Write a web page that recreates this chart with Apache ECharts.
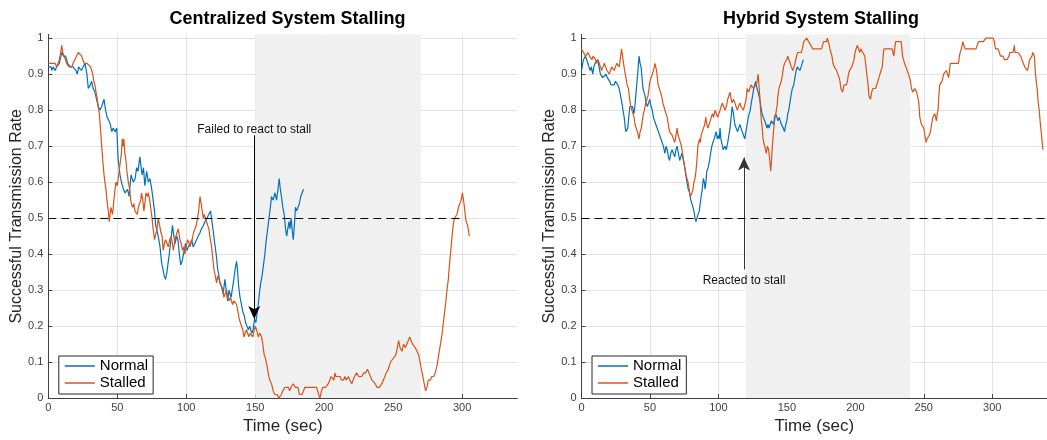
<!DOCTYPE html>
<html>
<head>
<meta charset="utf-8">
<script src="https://cdn.jsdelivr.net/npm/echarts@6/dist/echarts.min.js"></script>
<style>
  html, body { margin: 0; padding: 0; background: #fff; }
  #chart { width: 1047px; height: 440px; }
</style>
</head>
<body>
<div id="chart"></div>
<script>
// [time (sec), rate]
const centralNormal = [
  [0,0.92],[2,0.92],[2.5,0.91],[3.5,0.92],[5,0.91],[6,0.92],[8,0.93],[9.7,0.96],[11,0.95],[12.6,0.95],[14,0.93],[16,0.92],[18,0.92],[20,0.91],[21,0.9],[22,0.92],[24,0.91],[26.6,0.93],[28,0.9],[29,0.86],[30.5,0.87],[31.4,0.88],[32.5,0.86],[33.8,0.85],[35,0.83],[36.2,0.81],[37.5,0.8],[38.7,0.81],[40.4,0.83],[41.5,0.8],[42.7,0.78],[44,0.77],[45,0.76],[46,0.74],[47,0.75],[48.5,0.74],[49.6,0.75],[50.7,0.66],[52,0.62],
  [53,0.6],[54.5,0.58],[55.6,0.57],[57.5,0.58],[58.5,0.56],[60,0.62],[61.6,0.6],[63,0.61],[64,0.64],[65,0.63],[66.4,0.67],[67,0.65],[68,0.62],[69,0.64],[70,0.59],[71.3,0.63],[72.5,0.6],[73.7,0.61],[75,0.58],[76,0.55],[77,0.52],[77.8,0.48],[78.5,0.47],[79.7,0.45],[81,0.42],[82,0.38],[83,0.36],[84,0.34],[85,0.33],[86,0.35],[87,0.38],[88,0.41],[89,0.44],[90,0.48],[91,0.45],[92,0.43],[93,0.45],[94,0.44],[95,0.4],[96,0.37],[97,0.38],[98,0.4],[99.5,0.43],[100.5,0.41],[101.5,0.42],[103,0.43],[104,0.44],[105,0.42],[106,0.42],[107.5,0.44],[108.7,0.45],[110,0.46],[111,0.47],[112.5,0.48],[113.5,0.49],[115,0.5],[116,0.5],[117.6,0.52],[119,0.48],[120,0.45],[121,0.42],[122,0.39],[122.7,0.36],[123.7,0.34],[124.4,0.32],[125.5,0.31],[126.8,0.29],[128,0.33],[129,0.3],[130,0.27],[131,0.3],[131.6,0.3],[132.5,0.28],[133.6,0.28],[134.5,0.33],[135.5,0.36],[136.5,0.38],[137.3,0.35],[138,0.31],[139,0.28],[140,0.26],[141,0.24],[142,0.23],[143,0.21],[144,0.2],[145,0.19],[146,0.2],[146.6,0.2],[147.5,0.18],[148.5,0.19],[149.5,0.22],[150.5,0.21],[152.2,0.26],[153,0.29],[154,0.32],[155,0.34],[156,0.37],[157,0.4],[158,0.44],[158.7,0.46],[160,0.5],[161,0.53],[161.8,0.56],[163,0.55],[164.3,0.57],[165.5,0.55],[166.5,0.58],[167.4,0.61],[168.2,0.58],[169,0.56],[170,0.53],[171,0.51],[172,0.47],[172.8,0.45],[173.6,0.47],[174.5,0.49],[175.2,0.47],[176,0.5],[177,0.46],[177.6,0.44],[178.4,0.48],[179.2,0.53],[180,0.52],[181,0.52],[182,0.54],[183,0.56],[184,0.56],[185,0.58]
];
const centralStalled = [
  [0,0.93],[3,0.93],[4.9,0.93],[6.1,0.92],[7,0.92],[8,0.94],[9,0.96],[9.7,0.98],[10.5,0.96],[11.4,0.95],[12.5,0.94],[13.3,0.93],[15,0.92],[17,0.92],[18,0.93],[19.3,0.93],[20.5,0.95],[21.7,0.96],[23,0.96],[24.2,0.95],[25,0.94],[26,0.93],[28,0.93],[29,0.93],[30.7,0.92],[31.5,0.91],[32.2,0.9],[33,0.88],[33.8,0.87],[34.6,0.85],[35.5,0.83],[36.2,0.81],[37,0.79],[37.8,0.75],[38.7,0.7],[39.5,0.66],[40.4,0.62],[41,0.6],[41.8,0.58],[42.5,0.55],[43.5,0.52],[44.2,0.49],[45.4,0.53],[46.6,0.51],[47.8,0.56],[49,0.6],[50,0.59],[50.7,0.61],[52,0.65],[53,0.68],[53.6,0.72],[54.2,0.7],[54.8,0.72],[55.5,0.68],[56.3,0.66],[57,0.63],[58,0.6],[59,0.58],[59.7,0.55],[61,0.53],[62,0.54],[62.8,0.52],[64.5,0.51],[65.3,0.53],[66,0.53],[67,0.55],[67.6,0.57],[68.5,0.55],[69.3,0.52],[70,0.54],[70.8,0.57],[72,0.56],[72.5,0.57],[73.5,0.55],[74.4,0.55],[75.2,0.5],[76,0.47],[77,0.44],[77.8,0.44],[78.8,0.47],[79.7,0.5],[80.7,0.48],[81.6,0.46],[82.5,0.45],[83.3,0.41],[84.2,0.43],[85,0.44],[86,0.43],[87,0.42],[88,0.44],[89,0.45],[90,0.43],[90.6,0.41],[91.5,0.43],[92.5,0.45],[93.3,0.46],[94.2,0.47],[95.4,0.44],[96.3,0.43],[97.3,0.41],[98.2,0.42],[99,0.4],[100,0.42],[101,0.44],[102,0.43],[102.7,0.42],[103.5,0.43],[104.3,0.44],[105.3,0.46],[106.3,0.47],[107.2,0.48],[108.2,0.5],[109,0.52],[110,0.56],[110.8,0.54],[111.6,0.52],[112.3,0.5],[113,0.51],[114,0.5],[114.7,0.49],[115.5,0.48],[116.4,0.47],[117.5,0.44],[118.4,0.42],[119.2,0.39],[120,0.36],[121,0.34],[122,0.32],[122.8,0.34],[123.7,0.33],[124.6,0.32],[125.6,0.31],[126.5,0.3],[127.3,0.28],[128.2,0.29],[129.2,0.3],[130,0.28],[131,0.27],[132,0.28],[132.8,0.28],[133.6,0.26],[134.5,0.27],[135.5,0.27],[136.5,0.26],[137.5,0.24],[138.4,0.22],[139.2,0.21],[140,0.2],[141,0.19],[141.8,0.17],[142.7,0.18],[143.7,0.19],[144.5,0.18],[145.4,0.17],[146.3,0.18],[147.3,0.18],[148.3,0.17],[149.3,0.19],[150,0.2],[151,0.19],[152.2,0.17],[153.3,0.18],[154.6,0.17],[155.5,0.15],[156.5,0.12],[157.5,0.11],[158.5,0.09],[159.4,0.07],[160.5,0.05],[161.8,0.04],[163,0.02],[164.3,0.01],[166,0.01],[167,0.0],[168,0.005],[169,0.01],[170,0.02],[171.5,0.03],[174,0.03],[175,0.02],[176,0.03],[177.5,0.04],[179,0.03],[181,0.03],[182,0.01],[184,0.01],[185,0.02],[186,0.03],[190,0.03],[194.5,0.03],[196,0.01],[197,0.0],[198,0.02],[199,0.03],[201,0.03],[203,0.04],[204,0.05],[205,0.06],[206,0.06],[207,0.05],[207.8,0.07],[208.5,0.06],[210,0.06],[211.5,0.06],[212.5,0.05],[214,0.05],[215,0.06],[216,0.05],[217.6,0.06],[218.5,0.05],[220,0.04],[221,0.04],[222,0.06],[223.6,0.07],[225,0.06],[226,0.06],[227.3,0.06],[228.5,0.07],[230,0.07],[231.4,0.08],[232.5,0.07],[233.5,0.06],[234.6,0.05],[236,0.05],[237,0.04],[238.2,0.03],[240,0.03],[241.8,0.04],[243,0.04],[244,0.06],[245,0.07],[246.5,0.08],[248,0.1],[249,0.1],[250,0.11],[250.8,0.11],[252,0.12],[253,0.14],[254,0.16],[255,0.14],[256.4,0.13],[257.5,0.15],[258.8,0.14],[260,0.15],[261,0.16],[262,0.17],[263,0.16],[264,0.15],[265,0.15],[266,0.14],[267.3,0.13],[268.5,0.12],[269.5,0.1],[270.5,0.08],[271.5,0.06],[272.5,0.04],[273.5,0.02],[274.5,0.03],[275.5,0.05],[277,0.05],[278,0.06],[279.5,0.06],[280.5,0.07],[281.8,0.09],[283,0.12],[284.3,0.15],[285.5,0.18],[286.7,0.22],[288,0.26],[289,0.3],[290,0.33],[290.8,0.37],[291.8,0.41],[292.7,0.45],[293.5,0.48],[294.4,0.5],[295.3,0.5],[296.3,0.51],[297.3,0.53],[298.3,0.53],[299.3,0.55],[300.2,0.57],[301,0.55],[301.7,0.53],[302.5,0.5],[303,0.49],[304,0.48],[305.2,0.45]
];
const hybridNormal = [
  [0,0.91],[0.5,0.92],[1.4,0.94],[2.9,0.95],[3.8,0.94],[4.6,0.93],[5.5,0.92],[6.3,0.91],[7.2,0.92],[8.2,0.9],[9,0.92],[9.9,0.93],[11,0.93],[11.8,0.94],[12.8,0.92],[13.8,0.9],[14.7,0.9],[15.5,0.89],[16.5,0.89],[17.9,0.9],[18.8,0.89],[19.8,0.89],[20.6,0.88],[21.5,0.87],[22.5,0.87],[23.9,0.87],[24.8,0.88],[25.6,0.88],[26.5,0.87],[27.5,0.86],[28.5,0.84],[29.5,0.82],[30.3,0.8],[31.2,0.78],[32,0.75],[32.4,0.74],[33.8,0.75],[34.5,0.78],[35.3,0.81],[36.2,0.81],[37.2,0.81],[38.4,0.79],[39.2,0.82],[40.1,0.86],[41,0.9],[42,0.95],[42.8,0.93],[43.5,0.92],[44.2,0.89],[44.9,0.86],[45.6,0.85],[46.4,0.84],[47.2,0.82],[48.1,0.81],[49,0.82],[49.8,0.83],[50.8,0.81],[51.7,0.8],[52.5,0.78],[53.4,0.77],[54.3,0.76],[55.3,0.76],[56.2,0.74],[57.2,0.74],[58,0.72],[58.9,0.71],[59.8,0.7],[60.9,0.68],[61.8,0.7],[62.6,0.69],[63.5,0.67],[64.3,0.66],[65.2,0.68],[66.2,0.69],[67.1,0.68],[68.1,0.67],[69,0.69],[69.8,0.7],[70.8,0.68],[71.7,0.66],[72.5,0.67],[73.4,0.68],[74.4,0.66],[75.4,0.64],[76.2,0.62],[77,0.6],[78,0.58],[79,0.57],[79.8,0.55],[80.7,0.54],[81.4,0.53],[82.1,0.52],[82.9,0.5],[83.6,0.49],[84.3,0.5],[85,0.5],[86,0.52],[86.7,0.54],[87.4,0.56],[88.2,0.58],[89,0.61],[89.7,0.6],[90.3,0.58],[90.9,0.6],[91.5,0.63],[92.5,0.64],[93.5,0.66],[94.3,0.68],[95.2,0.7],[96,0.71],[96.9,0.72],[97.6,0.73],[98.3,0.74],[99.2,0.72],[100,0.73],[100.6,0.72],[101.2,0.75],[101.8,0.72],[102.4,0.71],[103.5,0.69],[104.8,0.7],[105.8,0.69],[106.8,0.71],[107.6,0.73],[108.5,0.75],[109.3,0.78],[110,0.81],[111,0.79],[112,0.76],[113,0.75],[114,0.74],[114.8,0.75],[115.7,0.76],[116.5,0.75],[117.4,0.74],[118.3,0.73],[119.3,0.72],[120.1,0.74],[121,0.76],[121.8,0.78],[122.5,0.79],[123.3,0.8],[124,0.82],[125,0.84],[125.8,0.86],[126.5,0.87],[127.3,0.88],[128.2,0.86],[129,0.85],[129.6,0.84],[130.2,0.83],[131,0.81],[131.9,0.79],[132.8,0.78],[133.8,0.77],[134.7,0.76],[135.5,0.75],[136.2,0.76],[137,0.75],[137.8,0.76],[138.6,0.77],[139.5,0.77],[140.3,0.76],[141,0.78],[141.8,0.79],[142.7,0.78],[143.5,0.77],[144.3,0.78],[145.2,0.77],[146,0.76],[146.6,0.76],[147.4,0.75],[148.3,0.74],[149.2,0.76],[150,0.77],[150.7,0.79],[151.4,0.8],[152.2,0.82],[153,0.84],[154,0.86],[155,0.87],[155.9,0.89],[156.8,0.91],[157.6,0.92],[158.5,0.92],[159.5,0.91],[160.4,0.92],[161.2,0.93],[162,0.94]
];
const hybridStalled = [
  [0,0.97],[0.5,0.97],[1.5,0.96],[2.2,0.96],[3,0.95],[3.9,0.95],[4.8,0.96],[5.8,0.95],[6.7,0.95],[7.7,0.94],[8.5,0.95],[9.4,0.95],[10.2,0.94],[11.1,0.93],[12,0.94],[13,0.93],[13.8,0.92],[14.7,0.91],[15.7,0.92],[16.7,0.93],[17.6,0.92],[18.6,0.91],[19.4,0.91],[20.3,0.9],[21.2,0.91],[22,0.92],[23,0.92],[23.9,0.91],[24.8,0.92],[25.8,0.93],[26.6,0.93],[27.5,0.92],[28.3,0.94],[29.2,0.97],[30,0.95],[30.7,0.93],[31.5,0.91],[32.4,0.89],[33.3,0.87],[34.3,0.86],[35.2,0.83],[36,0.81],[36.8,0.8],[37.7,0.8],[38.4,0.78],[39.1,0.76],[40,0.75],[40.8,0.74],[41.4,0.73],[42,0.72],[42.8,0.74],[43.7,0.75],[44.4,0.77],[45.2,0.79],[46,0.8],[46.9,0.82],[47.8,0.83],[48.6,0.84],[49.3,0.86],[50,0.88],[50.8,0.89],[51.7,0.9],[52.6,0.91],[53.6,0.93],[54.2,0.92],[54.8,0.91],[55.4,0.89],[56,0.87],[56.8,0.86],[57.7,0.85],[58.5,0.84],[59.4,0.82],[60.2,0.81],[60.9,0.8],[61.8,0.79],[62.6,0.78],[63.4,0.76],[64.3,0.74],[65.2,0.74],[66.2,0.73],[67.1,0.72],[68.1,0.71],[69,0.73],[69.8,0.75],[70.6,0.73],[71.5,0.72],[72.2,0.71],[73,0.7],[73.8,0.68],[74.6,0.66],[75.5,0.64],[76.3,0.62],[77,0.61],[77.8,0.6],[78.7,0.58],[79.5,0.56],[80.1,0.56],[80.7,0.57],[81.4,0.58],[82.1,0.6],[82.9,0.61],[83.6,0.63],[84.3,0.66],[85,0.7],[85.6,0.71],[86.2,0.72],[86.8,0.71],[87.4,0.73],[88.2,0.74],[89.1,0.75],[90,0.76],[90.8,0.78],[91.5,0.76],[92.3,0.75],[93.2,0.76],[94,0.77],[94.8,0.78],[95.6,0.79],[96.5,0.78],[97.6,0.8],[98.5,0.79],[99.5,0.78],[100.3,0.79],[101.2,0.8],[102,0.81],[102.9,0.82],[103.8,0.81],[104.8,0.8],[105.8,0.81],[106.8,0.83],[107.6,0.84],[108.5,0.85],[109.3,0.83],[110,0.82],[111,0.83],[112,0.82],[112.9,0.81],[113.8,0.8],[114.7,0.81],[115.7,0.82],[116.5,0.81],[117.4,0.81],[118.3,0.8],[119.3,0.8],[120.2,0.83],[121,0.86],[122,0.85],[123,0.86],[123.8,0.87],[124.6,0.87],[125.6,0.86],[126.6,0.86],[127.5,0.87],[128.3,0.88],[129,0.9],[129.6,0.87],[130.2,0.84],[130.8,0.8],[131.4,0.77],[132,0.75],[132.6,0.72],[133.2,0.71],[133.8,0.7],[134.4,0.69],[135,0.68],[135.8,0.7],[136.7,0.69],[137.5,0.66],[138.2,0.63],[138.8,0.66],[139.4,0.7],[140.2,0.74],[141,0.77],[141.9,0.79],[142.8,0.81],[143.5,0.84],[144.2,0.86],[145,0.87],[145.9,0.88],[146.8,0.9],[147.6,0.92],[148.3,0.93],[149,0.93],[149.8,0.94],[150.7,0.95],[151.5,0.94],[152.4,0.93],[153.3,0.92],[154.3,0.91],[155.2,0.92],[156,0.93],[157,0.95],[158,0.96],[159,0.96],[160.4,0.96],[161.3,0.97],[162.3,0.99],[163.4,0.99],[164.5,1.0],[165.2,1.0],[165.9,0.99],[166.8,0.99],[167.6,0.98],[168.8,0.97],[170,0.97],[172.5,0.97],[175.4,0.97],[176,0.98],[176.8,0.99],[179,0.99],[179.6,1.0],[180.2,1.0],[181,0.98],[181.4,0.97],[182.2,0.96],[182.9,0.95],[183.7,0.93],[184.6,0.92],[185.4,0.92],[186.3,0.91],[187.2,0.9],[188.2,0.89],[188.8,0.88],[189.4,0.86],[190,0.86],[190.6,0.85],[191.2,0.86],[191.8,0.87],[192.6,0.87],[193.5,0.87],[194.2,0.88],[195,0.9],[195.8,0.91],[196.6,0.91],[197.4,0.92],[198.3,0.93],[199,0.94],[199.8,0.96],[200.6,0.97],[201.5,0.98],[202.3,0.97],[203.2,0.96],[203.9,0.97],[204.6,0.97],[205.4,0.96],[206.3,0.96],[206.9,0.95],[207.5,0.93],[208.1,0.91],[208.7,0.89],[209.3,0.87],[209.9,0.84],[210.5,0.84],[211.1,0.83],[211.9,0.85],[212.8,0.86],[214,0.86],[214.8,0.86],[215.6,0.87],[216.5,0.88],[217.2,0.89],[218,0.9],[218.8,0.91],[219.7,0.92],[220.3,0.95],[220.9,0.97],[222,0.97],[223.3,0.97],[225,0.97],[226.9,0.97],[227.5,0.96],[228.1,0.95],[228.8,0.97],[229.4,0.99],[231.8,0.99],[233.5,0.99],[234,0.97],[234.5,0.95],[235.2,0.94],[235.9,0.93],[236.9,0.92],[237.9,0.91],[238.8,0.9],[239.6,0.89],[240.3,0.88],[241,0.86],[241.9,0.85],[242.8,0.85],[243.4,0.86],[244,0.86],[244.8,0.85],[245.7,0.85],[246.4,0.82],[247.1,0.78],[247.7,0.77],[248.3,0.76],[249.1,0.76],[250,0.75],[250.8,0.73],[251.7,0.71],[252.4,0.72],[253.2,0.72],[254,0.73],[254.9,0.74],[255.7,0.76],[256.6,0.78],[257.3,0.78],[258,0.79],[258.6,0.78],[259.2,0.77],[259.8,0.79],[260.4,0.8],[261,0.84],[261.6,0.87],[262.4,0.87],[263.3,0.88],[264,0.89],[264.5,0.9],[265.5,0.9],[266.5,0.91],[267.3,0.9],[268.2,0.89],[268.8,0.91],[269.4,0.93],[270.3,0.93],[271.3,0.93],[273,0.93],[275.4,0.93],[276,0.95],[276.6,0.96],[277.5,0.97],[278.5,0.99],[279.3,0.98],[280.2,0.97],[281.9,0.97],[283.8,0.97],[286.2,0.97],[288.2,0.97],[289,0.98],[289.9,0.99],[291.5,0.99],[293.5,0.99],[294.5,0.99],[295.4,1.0],[298,1.0],[300.7,1.0],[301.5,0.99],[302.4,0.97],[303.3,0.97],[304.3,0.97],[305.2,0.96],[306,0.95],[307,0.95],[307.9,0.95],[308.9,0.94],[309.9,0.94],[310.8,0.94],[311.6,0.94],[312.2,0.95],[312.8,0.96],[314,0.96],[315.2,0.96],[315.8,0.96],[316.2,0.98],[316.6,0.96],[317.6,0.96],[318.8,0.96],[320,0.96],[320.8,0.95],[321.7,0.94],[322.7,0.93],[323.7,0.92],[324.6,0.92],[325.6,0.91],[326.4,0.92],[327.3,0.94],[328.2,0.94],[329,0.95],[329.6,0.96],[330.2,0.96],[330.8,0.95],[331.4,0.91],[332.1,0.88],[332.8,0.86],[333.6,0.82],[334.3,0.8],[335.2,0.76],[336,0.73],[337,0.69]
];

const titles = ['Centralized System Stalling', 'Hybrid System Stalling'];
const seriesNames = ['Normal', 'Stalled'];
const stallWindows = [[150, 270], [120, 240]];
const threshold = 0.5;
const thresholdEnd = [300, 340];
// annotation arrows: [x, from, to]
const arrows = [[149.3, 0.73, 0.22], [118.7, 0.357, 0.668]];
const arrowText = ['Failed to react to stall', 'Reacted to stall'];
const arrowTextGap = [0, 5];

const blue = '#0072BD';
const orange = '#D95319';
const font = '"Liberation Sans", Arial, Helvetica, sans-serif';

const gridLeft = [48.3, 581.5];
const centers = [282.5, 816];

function makeXAxis(i) {
  return {
    type: 'value', gridIndex: i, min: 0, max: 340, interval: 50,
    name: 'Time (sec)', nameLocation: 'middle', nameGap: 17,
    nameTextStyle: { fontFamily: font, fontSize: 17, color: '#262626' },
    axisLine: { lineStyle: { color: '#404040', width: 1 } },
    axisTick: { inside: true, length: 4, lineStyle: { color: '#404040' } },
    axisLabel: { showMaxLabel: false, margin: 4, fontFamily: font, fontSize: 11, color: '#404040' },
    splitLine: { show: true, showMinLine: false, showMaxLine: false, lineStyle: { color: '#e3e3e3', width: 1 } }
  };
}

function makeYAxis(i) {
  return {
    type: 'value', gridIndex: i, min: 0, max: 1.01, interval: 0.1,
    name: 'Successful Transmission Rate', nameLocation: 'middle', nameGap: 24,
    nameTextStyle: { fontFamily: font, fontSize: 16, color: '#262626' },
    axisLine: { show: true, lineStyle: { color: '#404040', width: 1 } },
    axisTick: { show: true, inside: true, length: 4, lineStyle: { color: '#404040' } },
    axisLabel: { showMaxLabel: false, margin: 5, fontFamily: font, fontSize: 11, color: '#404040' },
    splitLine: { show: true, showMinLine: false, showMaxLine: false, lineStyle: { color: '#e3e3e3', width: 1 } }
  };
}

const dataSets = [[centralNormal, centralStalled], [hybridNormal, hybridStalled]];
const series = [];
for (let i = 0; i < 2; i++) {
  // stall window shading, under the lines
  series.push({
    type: 'line', xAxisIndex: i, yAxisIndex: i, data: [], z: 1, silent: true,
    markArea: {
      silent: true,
      itemStyle: { color: '#f0f0f0' },
      data: [[{ coord: [stallWindows[i][0], 0] }, { coord: [stallWindows[i][1], 1.01] }]]
    }
  });
  series.push({
    name: seriesNames[0], type: 'line', xAxisIndex: i, yAxisIndex: i,
    data: dataSets[i][0], symbol: 'none', z: 3,
    lineStyle: { color: blue, width: 1.2 }, itemStyle: { color: blue }
  });
  series.push({
    name: seriesNames[1], type: 'line', xAxisIndex: i, yAxisIndex: i,
    data: dataSets[i][1], symbol: 'none', z: 4,
    lineStyle: { color: orange, width: 1.2 }, itemStyle: { color: orange }
  });
  // threshold line and annotation arrow
  series.push({
    type: 'line', xAxisIndex: i, yAxisIndex: i, data: [], z: 5, silent: true,
    markLine: {
      silent: true, animation: false,
      data: [
        [
          { coord: [0, threshold], symbol: 'none', lineStyle: { color: '#000', type: [8, 5], width: 1 }, label: { show: false } },
          { coord: [thresholdEnd[i], threshold], symbol: 'none' }
        ],
        [
          { coord: [arrows[i][0], arrows[i][1]], symbol: 'none',
            lineStyle: { color: i === 0 ? '#000' : '#333', type: 'solid', width: 1 },
            label: { show: true, position: 'start', distance: arrowTextGap[i], formatter: arrowText[i], fontFamily: font, fontSize: 12, color: '#111' } },
          { coord: [arrows[i][0], arrows[i][2]], symbol: 'arrow', symbolSize: [9, 13] }
        ]
      ]
    }
  });
}

var option = {
  animation: false,
  backgroundColor: '#fff',
  title: titles.map((t, i) => ({
    text: t, left: centers[i], top: 5, textAlign: 'center',
    textStyle: { fontFamily: font, fontSize: 18, fontWeight: 'bold', color: '#000' }
  })),
  legend: [0, 1].map(i => ({
    data: seriesNames, orient: 'vertical', left: gridLeft[i] + 10.5, top: 356,
    icon: 'rect', itemWidth: 30, itemHeight: 1.5, itemGap: 1,
    padding: [2, 5, 3, 6],
    backgroundColor: '#fff', borderColor: '#262626', borderWidth: 1,
    textStyle: { fontFamily: font, fontSize: 15, color: '#000', lineHeight: 16 },
    selectedMode: false
  })),
  grid: [0, 1].map(i => ({ left: gridLeft[i], top: 34.5, width: 469, bottom: 36.7, containLabel: false })),
  xAxis: [makeXAxis(0), makeXAxis(1)],
  yAxis: [makeYAxis(0), makeYAxis(1)],
  series: series
};

const myChart = echarts.init(document.getElementById('chart'));
option && myChart.setOption(option);
</script>
</body>
</html>
